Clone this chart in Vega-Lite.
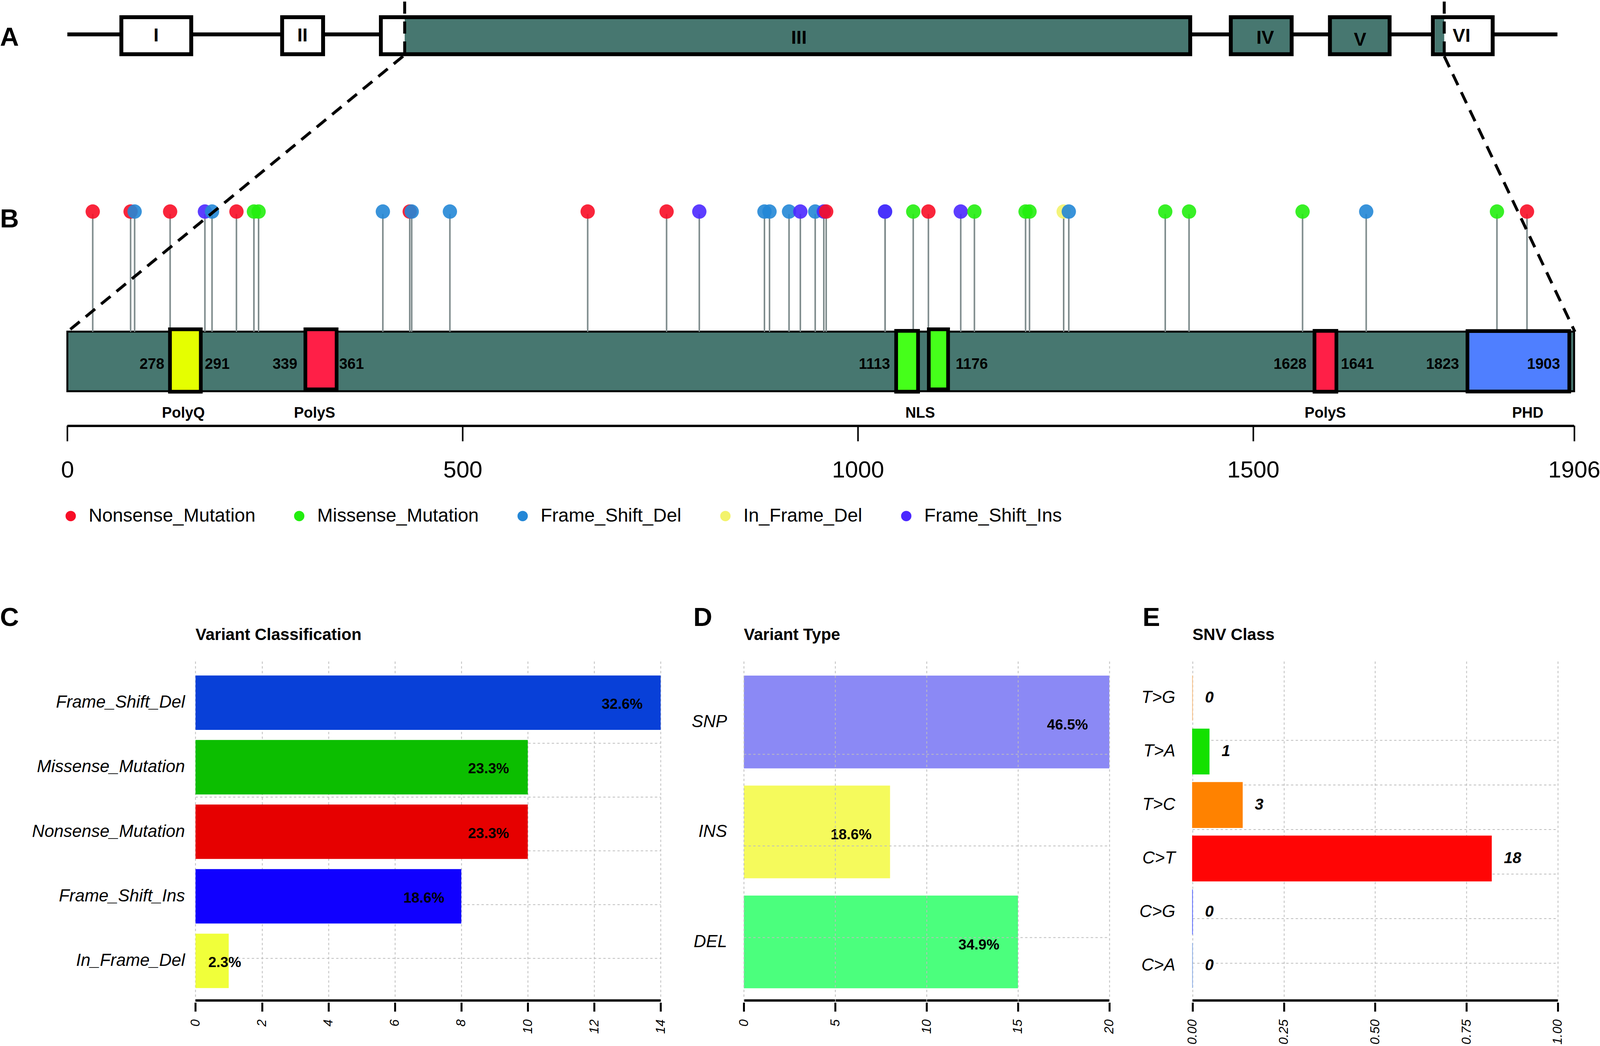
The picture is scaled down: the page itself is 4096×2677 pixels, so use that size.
{
  "$schema": "https://vega.github.io/schema/vega-lite/v6.json",
  "padding": 0,
  "autosize": {"type": "pad"},
  "background": "white",
  "bounds": "flush",
  "spacing": 603.4,
  "resolve": {"scale": {"color": "independent", "fill": "independent", "stroke": "independent"}, "legend": {"color": "independent", "fill": "independent", "stroke": "independent"}},
  "config": {
    "view": {"stroke": null},
    "text": {"font": "Liberation Sans", "color": "black"},
    "axis": {"labelFont": "Liberation Sans", "labelColor": "black", "tickColor": "black", "domain": false, "title": null}
  },
  "datasets": {
    "mut": [
      {"s": 32.1, "type": "Nonsense_Mutation"},
      {"s": 80.0, "type": "Nonsense_Mutation"},
      {"s": 85.1, "type": "Frame_Shift_Del"},
      {"s": 130.0, "type": "Nonsense_Mutation"},
      {"s": 174.0, "type": "Frame_Shift_Ins"},
      {"s": 183.0, "type": "Frame_Shift_Del"},
      {"s": 213.9, "type": "Nonsense_Mutation"},
      {"s": 236.0, "type": "Missense_Mutation"},
      {"s": 241.9, "type": "Missense_Mutation"},
      {"s": 399.1, "type": "Frame_Shift_Del"},
      {"s": 433.1, "type": "Nonsense_Mutation"},
      {"s": 435.6, "type": "Frame_Shift_Del"},
      {"s": 483.9, "type": "Frame_Shift_Del"},
      {"s": 658.2, "type": "Nonsense_Mutation"},
      {"s": 758.0, "type": "Nonsense_Mutation"},
      {"s": 799.4, "type": "Frame_Shift_Ins"},
      {"s": 881.8, "type": "Frame_Shift_Del"},
      {"s": 888.2, "type": "Frame_Shift_Del"},
      {"s": 912.9, "type": "Frame_Shift_Del"},
      {"s": 927.2, "type": "Frame_Shift_Ins"},
      {"s": 946.0, "type": "Frame_Shift_Del"},
      {"s": 956.9, "type": "Frame_Shift_Ins"},
      {"s": 959.9, "type": "Nonsense_Mutation"},
      {"s": 1034.4, "type": "Frame_Shift_Del"},
      {"s": 1034.4, "type": "Frame_Shift_Ins"},
      {"s": 1070.0, "type": "Missense_Mutation"},
      {"s": 1089.2, "type": "Nonsense_Mutation"},
      {"s": 1130.1, "type": "Frame_Shift_Ins"},
      {"s": 1147.4, "type": "Missense_Mutation"},
      {"s": 1212.1, "type": "Missense_Mutation"},
      {"s": 1217.1, "type": "Missense_Mutation"},
      {"s": 1260.3, "type": "In_Frame_Del"},
      {"s": 1266.8, "type": "Frame_Shift_Del"},
      {"s": 1388.8, "type": "Missense_Mutation"},
      {"s": 1418.9, "type": "Missense_Mutation"},
      {"s": 1562.5, "type": "Missense_Mutation"},
      {"s": 1643.0, "type": "Frame_Shift_Del"},
      {"s": 1808.4, "type": "Missense_Mutation"},
      {"s": 1846.4, "type": "Nonsense_Mutation"}
    ]
  },
  "vconcat": [
    {
      "width": 4095.9,
      "height": 1088.9,
      "layer": [
        {
          "data": {"values": [{"s": 0, "e": 1884.9, "r": 88}]},
          "mark": {"type": "rule", "color": "black", "strokeWidth": 10},
          "encoding": {
            "x": {"field": "s", "type": "quantitative", "scale": {"domain": [-85.2, 1938.7], "nice": false, "zero": false},
              "axis": {"values": [0, 500, 1000, 1500, 1906], "format": "d", "grid": false, "tickSize": 40, "tickWidth": 4, "labelFontSize": 60, "labelPadding": 46, "labelFlush": false, "labelOverlap": false, "labelBound": false, "title": null}},
            "x2": {"field": "e"},
            "y": {"field": "r", "type": "quantitative", "scale": {"domain": [0, 1090], "reverse": true, "nice": false, "zero": false}, "axis": null}
          }
        },
        {
          "data": {"values": [
            {"t": "I", "s": 68.3, "e": 156.7, "r": 44, "r2": 139, "k": "UTR"},
            {"t": "II", "s": 271.7, "e": 323.5, "r": 44, "r2": 139, "k": "UTR"},
            {"t": "III", "s": 396.6, "e": 1420.4, "r": 44, "r2": 139, "k": "CDS"},
            {"t": "IV", "s": 1471.7, "e": 1548.7, "r": 44, "r2": 139, "k": "CDS"},
            {"t": "V", "s": 1597.1, "e": 1672.6, "r": 44, "r2": 139, "k": "CDS"},
            {"t": "VI", "s": 1727.4, "e": 1803.0, "r": 44, "r2": 139, "k": "UTR"}
          ]},
          "mark": {"type": "rect", "stroke": "black", "strokeWidth": 10},
          "encoding": {
            "x": {"field": "s", "type": "quantitative", "scale": {"domain": [-85.2, 1938.7], "nice": false, "zero": false},
              "axis": {"values": [0, 500, 1000, 1500, 1906], "format": "d", "grid": false, "tickSize": 40, "tickWidth": 4, "labelFontSize": 60, "labelPadding": 46, "labelFlush": false, "labelOverlap": false, "labelBound": false, "title": null}},
            "x2": {"field": "e"},
            "y": {"field": "r", "type": "quantitative", "scale": {"domain": [0, 1090], "reverse": true, "nice": false, "zero": false}, "axis": null},
            "y2": {"field": "r2"},
            "fill": {"field": "k", "type": "nominal", "legend": null,
              "scale": {"domain": ["UTR", "CDS", "PolyQ", "PolyS", "NLS", "PHD"], "range": ["#FFFFFF", "#477770", "#E5FF00", "#FF1F47", "#45FF1A", "#4F7FFF"]}}
          }
        },
        {
          "data": {"values": [
            {"s": 399.0, "e": 426.7, "r": 49, "r2": 134, "k": "UTR"},
            {"s": 1729.9, "e": 1741.7, "r": 49, "r2": 134, "k": "CDS"}
          ]},
          "mark": {"type": "rect"},
          "encoding": {
            "x": {"field": "s", "type": "quantitative", "scale": {"domain": [-85.2, 1938.7], "nice": false, "zero": false},
              "axis": {"values": [0, 500, 1000, 1500, 1906], "format": "d", "grid": false, "tickSize": 40, "tickWidth": 4, "labelFontSize": 60, "labelPadding": 46, "labelFlush": false, "labelOverlap": false, "labelBound": false, "title": null}},
            "x2": {"field": "e"},
            "y": {"field": "r", "type": "quantitative", "scale": {"domain": [0, 1090], "reverse": true, "nice": false, "zero": false}, "axis": null},
            "y2": {"field": "r2"},
            "fill": {"field": "k", "type": "nominal", "legend": null,
              "scale": {"domain": ["UTR", "CDS", "PolyQ", "PolyS", "NLS", "PHD"], "range": ["#FFFFFF", "#477770", "#E5FF00", "#FF1F47", "#45FF1A", "#4F7FFF"]}}
          }
        },
        {
          "data": {"values": [
            {"t": "I", "s": 112.3, "r": 92},
            {"t": "II", "s": 297.4, "r": 92},
            {"t": "III", "s": 925.4, "r": 98},
            {"t": "IV", "s": 1515.2, "r": 98},
            {"t": "V", "s": 1635.2, "r": 103},
            {"t": "VI", "s": 1763.6, "r": 93}
          ]},
          "mark": {"type": "text", "fontSize": 48, "fontWeight": "bold"},
          "encoding": {
            "x": {"field": "s", "type": "quantitative", "scale": {"domain": [-85.2, 1938.7], "nice": false, "zero": false},
              "axis": {"values": [0, 500, 1000, 1500, 1906], "format": "d", "grid": false, "tickSize": 40, "tickWidth": 4, "labelFontSize": 60, "labelPadding": 46, "labelFlush": false, "labelOverlap": false, "labelBound": false, "title": null}},
            "y": {"field": "r", "type": "quantitative", "scale": {"domain": [0, 1090], "reverse": true, "nice": false, "zero": false}, "axis": null},
            "text": {"field": "t"}
          }
        },
        {
          "data": {"values": [{"s": 0, "e": 1906, "r": 849.7, "r2": 1002.3, "k": "CDS"}]},
          "mark": {"type": "rect", "stroke": "black", "strokeWidth": 5},
          "encoding": {
            "x": {"field": "s", "type": "quantitative", "scale": {"domain": [-85.2, 1938.7], "nice": false, "zero": false},
              "axis": {"values": [0, 500, 1000, 1500, 1906], "format": "d", "grid": false, "tickSize": 40, "tickWidth": 4, "labelFontSize": 60, "labelPadding": 46, "labelFlush": false, "labelOverlap": false, "labelBound": false, "title": null}},
            "x2": {"field": "e"},
            "y": {"field": "r", "type": "quantitative", "scale": {"domain": [0, 1090], "reverse": true, "nice": false, "zero": false}, "axis": null},
            "y2": {"field": "r2"},
            "fill": {"field": "k", "type": "nominal", "legend": null,
              "scale": {"domain": ["UTR", "CDS", "PolyQ", "PolyS", "NLS", "PHD"], "range": ["#FFFFFF", "#477770", "#E5FF00", "#FF1F47", "#45FF1A", "#4F7FFF"]}}
          }
        },
        {
          "data": {"name": "mut"},
          "mark": {"type": "rule", "color": "#7F8C8D", "strokeWidth": 4},
          "encoding": {
            "x": {"field": "s", "type": "quantitative", "scale": {"domain": [-85.2, 1938.7], "nice": false, "zero": false},
              "axis": {"values": [0, 500, 1000, 1500, 1906], "format": "d", "grid": false, "tickSize": 40, "tickWidth": 4, "labelFontSize": 60, "labelPadding": 46, "labelFlush": false, "labelOverlap": false, "labelBound": false, "title": null}},
            "y": {"datum": 548, "type": "quantitative", "scale": {"domain": [0, 1090], "reverse": true, "nice": false, "zero": false}, "axis": null},
            "y2": {"datum": 850}
          }
        },
        {
          "data": {"name": "mut"},
          "mark": {"type": "point", "filled": true, "size": 1345, "opacity": 0.9, "strokeWidth": 0},
          "encoding": {
            "x": {"field": "s", "type": "quantitative", "scale": {"domain": [-85.2, 1938.7], "nice": false, "zero": false},
              "axis": {"values": [0, 500, 1000, 1500, 1906], "format": "d", "grid": false, "tickSize": 40, "tickWidth": 4, "labelFontSize": 60, "labelPadding": 46, "labelFlush": false, "labelOverlap": false, "labelBound": false, "title": null}},
            "y": {"datum": 542, "type": "quantitative", "scale": {"domain": [0, 1090], "reverse": true, "nice": false, "zero": false}, "axis": null},
            "color": {"field": "type", "type": "nominal",
              "scale": {"domain": ["Nonsense_Mutation", "Missense_Mutation", "Frame_Shift_Del", "In_Frame_Del", "Frame_Shift_Ins"], "range": ["#F80D26", "#22EE0E", "#2487D6", "#F3F36B", "#4B28FF"]},
              "legend": {"orient": "none", "legendX": 157, "legendY": 1296.7, "direction": "horizontal", "title": null, "labelFontSize": 48, "labelFont": "Liberation Sans", "labelColor": "black", "symbolSize": 700, "symbolType": "circle", "labelOffset": 22, "columnPadding": 88, "labelLimit": 2000, "padding": 0, "symbolStrokeWidth": 0, "symbolOpacity": 1}}
          }
        },
        {
          "data": {"values": [
            {"t": "PolyQ", "s": 129.8, "e": 168.8, "r": 843.5, "r2": 1003.5, "k": "PolyQ"},
            {"t": "PolyS", "s": 301.1, "e": 340.6, "r": 843.5, "r2": 997.5, "k": "PolyS"},
            {"t": "NLS", "s": 1048.4, "e": 1076.1, "r": 847.5, "r2": 1003.5, "k": "NLS"},
            {"t": "NLS", "s": 1089.7, "e": 1114.1, "r": 843.5, "r2": 997.5, "k": "NLS"},
            {"t": "PolyS", "s": 1577.6, "e": 1605.3, "r": 847.5, "r2": 1003.5, "k": "PolyS"},
            {"t": "PHD", "s": 1771.1, "e": 1899.9, "r": 848, "r2": 1003, "k": "PHD"}
          ]},
          "mark": {"type": "rect", "stroke": "black", "strokeWidth": 9.5},
          "encoding": {
            "x": {"field": "s", "type": "quantitative", "scale": {"domain": [-85.2, 1938.7], "nice": false, "zero": false},
              "axis": {"values": [0, 500, 1000, 1500, 1906], "format": "d", "grid": false, "tickSize": 40, "tickWidth": 4, "labelFontSize": 60, "labelPadding": 46, "labelFlush": false, "labelOverlap": false, "labelBound": false, "title": null}},
            "x2": {"field": "e"},
            "y": {"field": "r", "type": "quantitative", "scale": {"domain": [0, 1090], "reverse": true, "nice": false, "zero": false}, "axis": null},
            "y2": {"field": "r2"},
            "fill": {"field": "k", "type": "nominal", "legend": null,
              "scale": {"domain": ["UTR", "CDS", "PolyQ", "PolyS", "NLS", "PHD"], "range": ["#FFFFFF", "#477770", "#E5FF00", "#FF1F47", "#45FF1A", "#4F7FFF"]}}
          }
        },
        {
          "data": {"values": [
            {"t": "278", "s": 122.6}, {"t": "339", "s": 290.9}, {"t": "1113", "s": 1040.8},
            {"t": "1628", "s": 1567.5}, {"t": "1823", "s": 1760.5}, {"t": "1903", "s": 1888.3}
          ]},
          "mark": {"type": "text", "align": "right", "fontSize": 38, "fontWeight": "bold"},
          "encoding": {
            "x": {"field": "s", "type": "quantitative", "scale": {"domain": [-85.2, 1938.7], "nice": false, "zero": false},
              "axis": {"values": [0, 500, 1000, 1500, 1906], "format": "d", "grid": false, "tickSize": 40, "tickWidth": 4, "labelFontSize": 60, "labelPadding": 46, "labelFlush": false, "labelOverlap": false, "labelBound": false, "title": null}},
            "y": {"datum": 934, "type": "quantitative", "scale": {"domain": [0, 1090], "reverse": true, "nice": false, "zero": false}, "axis": null},
            "text": {"field": "t"}
          }
        },
        {
          "data": {"values": [
            {"t": "291", "s": 173.9}, {"t": "361", "s": 343.8}, {"t": "1176", "s": 1123.7}, {"t": "1641", "s": 1611.0}
          ]},
          "mark": {"type": "text", "align": "left", "fontSize": 38, "fontWeight": "bold"},
          "encoding": {
            "x": {"field": "s", "type": "quantitative", "scale": {"domain": [-85.2, 1938.7], "nice": false, "zero": false},
              "axis": {"values": [0, 500, 1000, 1500, 1906], "format": "d", "grid": false, "tickSize": 40, "tickWidth": 4, "labelFontSize": 60, "labelPadding": 46, "labelFlush": false, "labelOverlap": false, "labelBound": false, "title": null}},
            "y": {"datum": 934, "type": "quantitative", "scale": {"domain": [0, 1090], "reverse": true, "nice": false, "zero": false}, "axis": null},
            "text": {"field": "t"}
          }
        },
        {
          "data": {"values": [
            {"t": "PolyQ", "s": 146.8}, {"t": "PolyS", "s": 312.7}, {"t": "NLS", "s": 1078.8},
            {"t": "PolyS", "s": 1591.2}, {"t": "PHD", "s": 1847.4}
          ]},
          "mark": {"type": "text", "fontSize": 38, "fontWeight": "bold"},
          "encoding": {
            "x": {"field": "s", "type": "quantitative", "scale": {"domain": [-85.2, 1938.7], "nice": false, "zero": false},
              "axis": {"values": [0, 500, 1000, 1500, 1906], "format": "d", "grid": false, "tickSize": 40, "tickWidth": 4, "labelFontSize": 60, "labelPadding": 46, "labelFlush": false, "labelOverlap": false, "labelBound": false, "title": null}},
            "y": {"datum": 1059, "type": "quantitative", "scale": {"domain": [0, 1090], "reverse": true, "nice": false, "zero": false}, "axis": null},
            "text": {"field": "t"}
          }
        },
        {
          "data": {"values": [{"s": 0, "e": 1906}]},
          "mark": {"type": "rule", "color": "black", "strokeWidth": 6},
          "encoding": {
            "x": {"field": "s", "type": "quantitative", "scale": {"domain": [-85.2, 1938.7], "nice": false, "zero": false},
              "axis": {"values": [0, 500, 1000, 1500, 1906], "format": "d", "grid": false, "tickSize": 40, "tickWidth": 4, "labelFontSize": 60, "labelPadding": 46, "labelFlush": false, "labelOverlap": false, "labelBound": false, "title": null}},
            "x2": {"field": "e"},
            "y": {"datum": 1091, "type": "quantitative", "scale": {"domain": [0, 1090], "reverse": true, "nice": false, "zero": false}, "axis": null}
          }
        },
        {
          "data": {"values": [{"t": "A", "s": -85.2, "r": 97}, {"t": "B", "s": -85.2, "r": 563}]},
          "mark": {"type": "text", "align": "left", "fontSize": 67, "fontWeight": "bold"},
          "encoding": {
            "x": {"field": "s", "type": "quantitative", "scale": {"domain": [-85.2, 1938.7], "nice": false, "zero": false},
              "axis": {"values": [0, 500, 1000, 1500, 1906], "format": "d", "grid": false, "tickSize": 40, "tickWidth": 4, "labelFontSize": 60, "labelPadding": 46, "labelFlush": false, "labelOverlap": false, "labelBound": false, "title": null}},
            "y": {"field": "r", "type": "quantitative", "scale": {"domain": [0, 1090], "reverse": true, "nice": false, "zero": false}, "axis": null},
            "text": {"field": "t"}
          }
        },
        {
          "data": {"values": [
            {"s": 426.7, "e": 426.7, "r": 4, "r2": 144},
            {"s": 424.7, "e": 0, "r": 144, "r2": 850},
            {"s": 1741.7, "e": 1741.7, "r": 4, "r2": 144},
            {"s": 1741.7, "e": 1907, "r": 144, "r2": 850}
          ]},
          "mark": {"type": "rule", "color": "black", "strokeWidth": 7.5, "strokeDash": [31, 20]},
          "encoding": {
            "x": {"field": "s", "type": "quantitative", "scale": {"domain": [-85.2, 1938.7], "nice": false, "zero": false},
              "axis": {"values": [0, 500, 1000, 1500, 1906], "format": "d", "grid": false, "tickSize": 40, "tickWidth": 4, "labelFontSize": 60, "labelPadding": 46, "labelFlush": false, "labelOverlap": false, "labelBound": false, "title": null}},
            "x2": {"field": "e"},
            "y": {"field": "r", "type": "quantitative", "scale": {"domain": [0, 1090], "reverse": true, "nice": false, "zero": false}, "axis": null},
            "y2": {"field": "r2"}
          }
        }
      ]
    },
    {
      "spacing": 0,
      "bounds": "flush",
      "resolve": {"scale": {"color": "independent", "stroke": "independent"}, "legend": {"color": "independent", "stroke": "independent"}},
      "hconcat": [
        {
          "width": 1691.3,
          "height": 873.1,
          "layer": [
            {
              "data": {"values": [{"g": 0.782}, {"g": 1.782}, {"g": 2.782}, {"g": 3.782}, {"g": 4.782}]},
              "mark": {"type": "rule", "color": "#BDBDBD", "strokeWidth": 2, "strokeDash": [6, 6]},
              "encoding": {
                "x": {"datum": 0, "type": "quantitative", "scale": {"domain": [-5.884, 14], "nice": false, "zero": false},
                  "axis": {"values": [0, 2, 4, 6, 8, 10, 12, 14], "labelAngle": 270, "labelFontStyle": "italic", "labelFontSize": 33, "tickSize": 23, "tickWidth": 5, "grid": true, "gridDash": [6, 6], "gridColor": "#BDBDBD", "gridWidth": 2, "labelPadding": 20, "title": null, "labelFlush": false, "labelOverlap": false}},
                "x2": {"datum": 14},
                "y": {"field": "g", "type": "quantitative", "scale": {"domain": [0, 6.27], "nice": false, "zero": false}, "axis": null}
              }
            },
            {
              "data": {"values": [
                {"cat": "Frame_Shift_Del", "n": 14, "mid": 5.537, "pct": "32.6%", "lp": 12.84},
                {"cat": "Missense_Mutation", "n": 10, "mid": 4.337, "pct": "23.3%", "lp": 8.82},
                {"cat": "Nonsense_Mutation", "n": 10, "mid": 3.137, "pct": "23.3%", "lp": 8.82},
                {"cat": "Frame_Shift_Ins", "n": 8, "mid": 1.937, "pct": "18.6%", "lp": 6.87},
                {"cat": "In_Frame_Del", "n": 1, "mid": 0.737, "pct": "2.3%", "lp": 0.88}
              ]},
              "layer": [
                {
                  "mark": {"type": "bar", "orient": "horizontal", "size": 139.3},
                  "encoding": {
                    "x": {"field": "n", "type": "quantitative", "scale": {"domain": [-5.884, 14], "nice": false, "zero": false},
                      "axis": {"values": [0, 2, 4, 6, 8, 10, 12, 14], "labelAngle": 270, "labelFontStyle": "italic", "labelFontSize": 33, "tickSize": 23, "tickWidth": 5, "grid": true, "gridDash": [6, 6], "gridColor": "#BDBDBD", "gridWidth": 2, "labelPadding": 20, "title": null, "labelFlush": false, "labelOverlap": false}},
                    "x2": {"datum": 0},
                    "y": {"field": "mid", "type": "quantitative", "scale": {"domain": [0, 6.27], "nice": false, "zero": false}, "axis": null},
                    "color": {"field": "cat", "type": "nominal", "legend": null,
                      "scale": {"domain": ["Frame_Shift_Del", "Missense_Mutation", "Nonsense_Mutation", "Frame_Shift_Ins", "In_Frame_Del"], "range": ["#0840D8", "#0CBE00", "#E60000", "#1000FF", "#F0FF3A"]}}
                  }
                },
                {
                  "mark": {"type": "text", "align": "right", "dx": -27, "fontSize": 44, "fontStyle": "italic"},
                  "encoding": {
                    "x": {"datum": 0, "type": "quantitative", "scale": {"domain": [-5.884, 14], "nice": false, "zero": false},
                      "axis": {"values": [0, 2, 4, 6, 8, 10, 12, 14], "labelAngle": 270, "labelFontStyle": "italic", "labelFontSize": 33, "tickSize": 23, "tickWidth": 5, "grid": true, "gridDash": [6, 6], "gridColor": "#BDBDBD", "gridWidth": 2, "labelPadding": 20, "title": null, "labelFlush": false, "labelOverlap": false}},
                    "y": {"field": "mid", "type": "quantitative", "scale": {"domain": [0, 6.27], "nice": false, "zero": false}, "axis": null},
                    "text": {"field": "cat"}
                  }
                },
                {
                  "mark": {"type": "text", "dy": 5, "fontSize": 37, "fontWeight": "bold"},
                  "encoding": {
                    "x": {"field": "lp", "type": "quantitative", "scale": {"domain": [-5.884, 14], "nice": false, "zero": false},
                      "axis": {"values": [0, 2, 4, 6, 8, 10, 12, 14], "labelAngle": 270, "labelFontStyle": "italic", "labelFontSize": 33, "tickSize": 23, "tickWidth": 5, "grid": true, "gridDash": [6, 6], "gridColor": "#BDBDBD", "gridWidth": 2, "labelPadding": 20, "title": null, "labelFlush": false, "labelOverlap": false}},
                    "y": {"field": "mid", "type": "quantitative", "scale": {"domain": [0, 6.27], "nice": false, "zero": false}, "axis": null},
                    "text": {"field": "pct"}
                  }
                }
              ]
            },
            {
              "data": {"values": [{"t": "Variant Classification", "p": "C"}]},
              "layer": [
                {
                  "mark": {"type": "rule", "color": "black", "strokeWidth": 6},
                  "encoding": {
                    "x": {"datum": 0, "type": "quantitative", "scale": {"domain": [-5.884, 14], "nice": false, "zero": false},
                      "axis": {"values": [0, 2, 4, 6, 8, 10, 12, 14], "labelAngle": 270, "labelFontStyle": "italic", "labelFontSize": 33, "tickSize": 23, "tickWidth": 5, "grid": true, "gridDash": [6, 6], "gridColor": "#BDBDBD", "gridWidth": 2, "labelPadding": 20, "title": null, "labelFlush": false, "labelOverlap": false}},
                    "x2": {"datum": 14},
                    "y": {"datum": 0, "type": "quantitative", "scale": {"domain": [0, 6.27], "nice": false, "zero": false}, "axis": null}
                  }
                },
                {
                  "mark": {"type": "text", "align": "left", "fontSize": 42, "fontWeight": "bold"},
                  "encoding": {
                    "x": {"datum": 0, "type": "quantitative", "scale": {"domain": [-5.884, 14], "nice": false, "zero": false},
                      "axis": {"values": [0, 2, 4, 6, 8, 10, 12, 14], "labelAngle": 270, "labelFontStyle": "italic", "labelFontSize": 33, "tickSize": 23, "tickWidth": 5, "grid": true, "gridDash": [6, 6], "gridColor": "#BDBDBD", "gridWidth": 2, "labelPadding": 20, "title": null, "labelFlush": false, "labelOverlap": false}},
                    "y": {"datum": 6.794, "type": "quantitative", "scale": {"domain": [0, 6.27], "nice": false, "zero": false}, "axis": null},
                    "text": {"field": "t"}
                  }
                },
                {
                  "mark": {"type": "text", "align": "left", "fontSize": 67, "fontWeight": "bold"},
                  "encoding": {
                    "x": {"datum": -5.884, "type": "quantitative", "scale": {"domain": [-5.884, 14], "nice": false, "zero": false},
                      "axis": {"values": [0, 2, 4, 6, 8, 10, 12, 14], "labelAngle": 270, "labelFontStyle": "italic", "labelFontSize": 33, "tickSize": 23, "tickWidth": 5, "grid": true, "gridDash": [6, 6], "gridColor": "#BDBDBD", "gridWidth": 2, "labelPadding": 20, "title": null, "labelFlush": false, "labelOverlap": false}},
                    "y": {"datum": 7.109, "type": "quantitative", "scale": {"domain": [0, 6.27], "nice": false, "zero": false}, "axis": null},
                    "text": {"field": "p"}
                  }
                }
              ]
            }
          ]
        },
        {
          "width": 1147.9,
          "height": 873.1,
          "layer": [
            {
              "data": {"values": [
                {"cat": "SNP", "n": 20, "mid": 3.039, "pct": "46.5%", "lp": 17.71},
                {"cat": "INS", "n": 8, "mid": 1.839, "pct": "18.6%", "lp": 5.87},
                {"cat": "DEL", "n": 15, "mid": 0.639, "pct": "34.9%", "lp": 12.86}
              ]},
              "layer": [
                {
                  "mark": {"type": "bar", "orient": "horizontal", "size": 237.3},
                  "encoding": {
                    "x": {"field": "n", "type": "quantitative", "scale": {"domain": [-4.538, 20], "nice": false, "zero": false},
                      "axis": {"values": [0, 5, 10, 15, 20], "labelAngle": 270, "labelFontStyle": "italic", "labelFontSize": 33, "tickSize": 23, "tickWidth": 5, "grid": true, "gridDash": [6, 6], "gridColor": "#BDBDBD", "gridWidth": 2, "labelPadding": 20, "title": null, "labelFlush": false, "labelOverlap": false, "zindex": 1}},
                    "x2": {"datum": 0},
                    "y": {"field": "mid", "type": "quantitative", "scale": {"domain": [0, 3.68], "nice": false, "zero": false}, "axis": null},
                    "color": {"field": "cat", "type": "nominal", "legend": null,
                      "scale": {"domain": ["SNP", "INS", "DEL"], "range": ["#8B89F5", "#F5FA5C", "#4BFF7D"]}}
                  }
                },
                {
                  "mark": {"type": "text", "align": "right", "dx": -43, "fontSize": 44, "fontStyle": "italic"},
                  "encoding": {
                    "x": {"datum": 0, "type": "quantitative", "scale": {"domain": [-4.538, 20], "nice": false, "zero": false},
                      "axis": {"values": [0, 5, 10, 15, 20], "labelAngle": 270, "labelFontStyle": "italic", "labelFontSize": 33, "tickSize": 23, "tickWidth": 5, "grid": true, "gridDash": [6, 6], "gridColor": "#BDBDBD", "gridWidth": 2, "labelPadding": 20, "title": null, "labelFlush": false, "labelOverlap": false, "zindex": 1}},
                    "y": {"field": "mid", "type": "quantitative", "scale": {"domain": [0, 3.68], "nice": false, "zero": false}, "axis": null},
                    "text": {"field": "cat"}
                  }
                },
                {
                  "mark": {"type": "text", "dy": 8, "fontSize": 37, "fontWeight": "bold"},
                  "encoding": {
                    "x": {"field": "lp", "type": "quantitative", "scale": {"domain": [-4.538, 20], "nice": false, "zero": false},
                      "axis": {"values": [0, 5, 10, 15, 20], "labelAngle": 270, "labelFontStyle": "italic", "labelFontSize": 33, "tickSize": 23, "tickWidth": 5, "grid": true, "gridDash": [6, 6], "gridColor": "#BDBDBD", "gridWidth": 2, "labelPadding": 20, "title": null, "labelFlush": false, "labelOverlap": false, "zindex": 1}},
                    "y": {"field": "mid", "type": "quantitative", "scale": {"domain": [0, 3.68], "nice": false, "zero": false}, "axis": null},
                    "text": {"field": "pct"}
                  }
                }
              ]
            },
            {
              "data": {"values": [{"g": 0.686}, {"g": 1.686}, {"g": 2.686}]},
              "mark": {"type": "rule", "color": "#BDBDBD", "strokeWidth": 2, "strokeDash": [6, 6]},
              "encoding": {
                "x": {"datum": 0, "type": "quantitative", "scale": {"domain": [-4.538, 20], "nice": false, "zero": false},
                  "axis": {"values": [0, 5, 10, 15, 20], "labelAngle": 270, "labelFontStyle": "italic", "labelFontSize": 33, "tickSize": 23, "tickWidth": 5, "grid": true, "gridDash": [6, 6], "gridColor": "#BDBDBD", "gridWidth": 2, "labelPadding": 20, "title": null, "labelFlush": false, "labelOverlap": false, "zindex": 1}},
                "x2": {"datum": 20},
                "y": {"field": "g", "type": "quantitative", "scale": {"domain": [0, 3.68], "nice": false, "zero": false}, "axis": null}
              }
            },
            {
              "data": {"values": [{"t": "Variant Type", "p": "D"}]},
              "layer": [
                {
                  "mark": {"type": "rule", "color": "black", "strokeWidth": 6},
                  "encoding": {
                    "x": {"datum": 0, "type": "quantitative", "scale": {"domain": [-4.538, 20], "nice": false, "zero": false},
                      "axis": {"values": [0, 5, 10, 15, 20], "labelAngle": 270, "labelFontStyle": "italic", "labelFontSize": 33, "tickSize": 23, "tickWidth": 5, "grid": true, "gridDash": [6, 6], "gridColor": "#BDBDBD", "gridWidth": 2, "labelPadding": 20, "title": null, "labelFlush": false, "labelOverlap": false, "zindex": 1}},
                    "x2": {"datum": 20},
                    "y": {"datum": 0, "type": "quantitative", "scale": {"domain": [0, 3.68], "nice": false, "zero": false}, "axis": null}
                  }
                },
                {
                  "mark": {"type": "text", "align": "left", "fontSize": 42, "fontWeight": "bold"},
                  "encoding": {
                    "x": {"datum": 0, "type": "quantitative", "scale": {"domain": [-4.538, 20], "nice": false, "zero": false},
                      "axis": {"values": [0, 5, 10, 15, 20], "labelAngle": 270, "labelFontStyle": "italic", "labelFontSize": 33, "tickSize": 23, "tickWidth": 5, "grid": true, "gridDash": [6, 6], "gridColor": "#BDBDBD", "gridWidth": 2, "labelPadding": 20, "title": null, "labelFlush": false, "labelOverlap": false, "zindex": 1}},
                    "y": {"datum": 3.987, "type": "quantitative", "scale": {"domain": [0, 3.68], "nice": false, "zero": false}, "axis": null},
                    "text": {"field": "t"}
                  }
                },
                {
                  "mark": {"type": "text", "align": "left", "fontSize": 67, "fontWeight": "bold"},
                  "encoding": {
                    "x": {"datum": -2.766, "type": "quantitative", "scale": {"domain": [-4.538, 20], "nice": false, "zero": false},
                      "axis": {"values": [0, 5, 10, 15, 20], "labelAngle": 270, "labelFontStyle": "italic", "labelFontSize": 33, "tickSize": 23, "tickWidth": 5, "grid": true, "gridDash": [6, 6], "gridColor": "#BDBDBD", "gridWidth": 2, "labelPadding": 20, "title": null, "labelFlush": false, "labelOverlap": false, "zindex": 1}},
                    "y": {"datum": 4.173, "type": "quantitative", "scale": {"domain": [0, 3.68], "nice": false, "zero": false}, "axis": null},
                    "text": {"field": "p"}
                  }
                }
              ]
            }
          ]
        },
        {
          "width": 1147.9,
          "height": 873.1,
          "layer": [
            {
              "data": {"values": [{"g": 0.836}, {"g": 1.836}, {"g": 2.836}, {"g": 3.836}, {"g": 4.836}, {"g": 5.836}]},
              "mark": {"type": "rule", "color": "#BDBDBD", "strokeWidth": 2, "strokeDash": [6, 6]},
              "encoding": {
                "x": {"datum": 0, "type": "quantitative", "scale": {"domain": [-0.2276, 1], "nice": false, "zero": false},
                  "axis": {"values": [0, 0.25, 0.5, 0.75, 1], "format": ".2f", "labelAngle": 270, "labelFontStyle": "italic", "labelFontSize": 33, "tickSize": 23, "tickWidth": 5, "grid": true, "gridDash": [6, 6], "gridColor": "#BDBDBD", "gridWidth": 2, "labelPadding": 20, "title": null, "labelFlush": false, "labelOverlap": false}},
                "x2": {"datum": 1},
                "y": {"field": "g", "type": "quantitative", "scale": {"domain": [0, 7.567], "nice": false, "zero": false}, "axis": null}
              }
            },
            {
              "data": {"values": [
                {"cat": "T>G", "n": 0, "mid": 6.786, "lab": "0"},
                {"cat": "T>A", "n": 0.04545, "mid": 5.586, "lab": "1"},
                {"cat": "T>C", "n": 0.13636, "mid": 4.386, "lab": "3"},
                {"cat": "C>T", "n": 0.81818, "mid": 3.186, "lab": "18"},
                {"cat": "C>G", "n": 0, "mid": 1.986, "lab": "0"},
                {"cat": "C>A", "n": 0, "mid": 0.786, "lab": "0"}
              ]},
              "layer": [
                {
                  "mark": {"type": "bar", "orient": "horizontal", "size": 115.4, "strokeWidth": 2},
                  "encoding": {
                    "x": {"field": "n", "type": "quantitative", "scale": {"domain": [-0.2276, 1], "nice": false, "zero": false},
                      "axis": {"values": [0, 0.25, 0.5, 0.75, 1], "format": ".2f", "labelAngle": 270, "labelFontStyle": "italic", "labelFontSize": 33, "tickSize": 23, "tickWidth": 5, "grid": true, "gridDash": [6, 6], "gridColor": "#BDBDBD", "gridWidth": 2, "labelPadding": 20, "title": null, "labelFlush": false, "labelOverlap": false}},
                    "x2": {"datum": 0},
                    "y": {"field": "mid", "type": "quantitative", "scale": {"domain": [0, 7.567], "nice": false, "zero": false}, "axis": null},
                    "color": {"field": "cat", "type": "nominal", "legend": null,
                      "scale": {"domain": ["T>G", "T>A", "T>C", "C>T", "C>G", "C>A"], "range": ["#F8C088", "#14E100", "#FF8200", "#FF0505", "#5A6BFF", "#8FB0E8"]}},
                    "stroke": {"field": "cat", "type": "nominal", "legend": null,
                      "scale": {"domain": ["T>G", "T>A", "T>C", "C>T", "C>G", "C>A"], "range": ["#F8C088", "#14E100", "#FF8200", "#FF0505", "#5A6BFF", "#8FB0E8"]}}
                  }
                },
                {
                  "mark": {"type": "text", "align": "right", "dx": -44, "fontSize": 44, "fontStyle": "italic"},
                  "encoding": {
                    "x": {"datum": 0, "type": "quantitative", "scale": {"domain": [-0.2276, 1], "nice": false, "zero": false},
                      "axis": {"values": [0, 0.25, 0.5, 0.75, 1], "format": ".2f", "labelAngle": 270, "labelFontStyle": "italic", "labelFontSize": 33, "tickSize": 23, "tickWidth": 5, "grid": true, "gridDash": [6, 6], "gridColor": "#BDBDBD", "gridWidth": 2, "labelPadding": 20, "title": null, "labelFlush": false, "labelOverlap": false}},
                    "y": {"field": "mid", "type": "quantitative", "scale": {"domain": [0, 7.567], "nice": false, "zero": false}, "axis": null},
                    "text": {"field": "cat"}
                  }
                },
                {
                  "mark": {"type": "text", "align": "left", "dx": 32, "fontSize": 40, "fontWeight": "bold", "fontStyle": "italic"},
                  "encoding": {
                    "x": {"field": "n", "type": "quantitative", "scale": {"domain": [-0.2276, 1], "nice": false, "zero": false},
                      "axis": {"values": [0, 0.25, 0.5, 0.75, 1], "format": ".2f", "labelAngle": 270, "labelFontStyle": "italic", "labelFontSize": 33, "tickSize": 23, "tickWidth": 5, "grid": true, "gridDash": [6, 6], "gridColor": "#BDBDBD", "gridWidth": 2, "labelPadding": 20, "title": null, "labelFlush": false, "labelOverlap": false}},
                    "y": {"field": "mid", "type": "quantitative", "scale": {"domain": [0, 7.567], "nice": false, "zero": false}, "axis": null},
                    "text": {"field": "lab"}
                  }
                }
              ]
            },
            {
              "data": {"values": [{"t": "SNV Class", "p": "E"}]},
              "layer": [
                {
                  "mark": {"type": "rule", "color": "black", "strokeWidth": 6},
                  "encoding": {
                    "x": {"datum": 0, "type": "quantitative", "scale": {"domain": [-0.2276, 1], "nice": false, "zero": false},
                      "axis": {"values": [0, 0.25, 0.5, 0.75, 1], "format": ".2f", "labelAngle": 270, "labelFontStyle": "italic", "labelFontSize": 33, "tickSize": 23, "tickWidth": 5, "grid": true, "gridDash": [6, 6], "gridColor": "#BDBDBD", "gridWidth": 2, "labelPadding": 20, "title": null, "labelFlush": false, "labelOverlap": false}},
                    "x2": {"datum": 1},
                    "y": {"datum": 0, "type": "quantitative", "scale": {"domain": [0, 7.567], "nice": false, "zero": false}, "axis": null}
                  }
                },
                {
                  "mark": {"type": "text", "align": "left", "fontSize": 42, "fontWeight": "bold"},
                  "encoding": {
                    "x": {"datum": 0, "type": "quantitative", "scale": {"domain": [-0.2276, 1], "nice": false, "zero": false},
                      "axis": {"values": [0, 0.25, 0.5, 0.75, 1], "format": ".2f", "labelAngle": 270, "labelFontStyle": "italic", "labelFontSize": 33, "tickSize": 23, "tickWidth": 5, "grid": true, "gridDash": [6, 6], "gridColor": "#BDBDBD", "gridWidth": 2, "labelPadding": 20, "title": null, "labelFlush": false, "labelOverlap": false}},
                    "y": {"datum": 8.199, "type": "quantitative", "scale": {"domain": [0, 7.567], "nice": false, "zero": false}, "axis": null},
                    "text": {"field": "t"}
                  }
                },
                {
                  "mark": {"type": "text", "align": "left", "fontSize": 67, "fontWeight": "bold"},
                  "encoding": {
                    "x": {"datum": -0.1368, "type": "quantitative", "scale": {"domain": [-0.2276, 1], "nice": false, "zero": false},
                      "axis": {"values": [0, 0.25, 0.5, 0.75, 1], "format": ".2f", "labelAngle": 270, "labelFontStyle": "italic", "labelFontSize": 33, "tickSize": 23, "tickWidth": 5, "grid": true, "gridDash": [6, 6], "gridColor": "#BDBDBD", "gridWidth": 2, "labelPadding": 20, "title": null, "labelFlush": false, "labelOverlap": false}},
                    "y": {"datum": 8.58, "type": "quantitative", "scale": {"domain": [0, 7.567], "nice": false, "zero": false}, "axis": null},
                    "text": {"field": "p"}
                  }
                }
              ]
            }
          ]
        }
      ]
    }
  ]
}
